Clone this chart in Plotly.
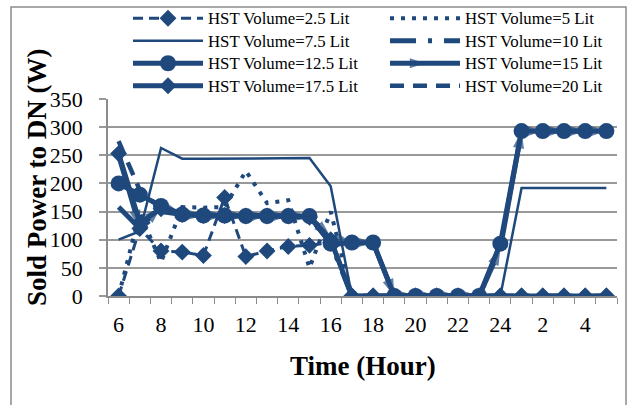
import plotly.graph_objects as go

# ---- data ----
hours = [6, 7, 8, 9, 10, 11, 12, 13, 14, 15, 16, 17, 18, 19, 20, 21, 22, 23, 24, 1, 2, 3, 4, 5]
tick_labels = ['6', '8', '10', '12', '14', '16', '18', '20', '22', '24', '2', '4']

v2_5 = [0, 120, 80, 78, 72, 175, 70, 80, 88, 90, 95, 0, 0, 0, 0, 0, 0, 0, 0, 0, 0, 0, 0, 0]
v5 = [0, 148, 60, 158, 157, 158, 222, 165, 170, 50, 150, 0, 0, 0, 0, 0, 0, 0, 0, 0, 0, 0, 0, 0]
v7_5 = [100, 115, 263, 244, 244, 244, 244, 244, 244, 245, 195, 0, 0, 0, 0, 0, 0, 0, 0, 192, 192, 192, 192, 192]
v10 = [158, 120, 150, 145, 143, 143, 142, 142, 142, 140, 95, 0, 0, 0, 0, 0, 0, 0, 0, 0, 0, 0, 0, 0]
v12_5 = [200, 180, 160, 145, 143, 143, 142, 142, 142, 142, 93, 95, 95, 0, 0, 0, 0, 0, 93, 293, 293, 293, 293, 293]
v15 = [250, 122, 158, 145, 143, 143, 142, 142, 142, 140, 105, 95, 95, 0, 0, 0, 0, 0, 85, 293, 293, 293, 293, 293]
v17_5 = [253, 130, 155, 145, 143, 143, 142, 142, 142, 140, 100, 0, 0, 0, 0, 0, 0, 0, 0, 0, 0, 0, 0, 0]
v20 = [275, 188, 155, 145, 143, 143, 142, 142, 142, 140, 100, 0, 0, 0, 0, 0, 0, 0, 0, 0, 0, 0, 0, 0]

names = ['HST Volume=2.5 Lit', 'HST Volume=5 Lit', 'HST Volume=7.5 Lit', 'HST Volume=10 Lit',
         'HST Volume=12.5 Lit', 'HST Volume=15 Lit', 'HST Volume=17.5 Lit', 'HST Volume=20 Lit']

# ---- styling ----
C = '#1f497d'
FONT = 'Liberation Serif'
x = list(range(len(hours)))
label_pos = [i for i, h in enumerate(hours) if str(h) in tick_labels and i % 2 == 0]

W, H = 629, 405
ML, MR, MT, MB = 108, 12, 99, 109
PW, PH = W - ML - MR, H - MT - MB


def px_x(p):
    return (p - ML) / PW


def px_y(p):
    return (H - MB - p) / PH


def lg(name):
    return '<span style="font-size:16.8px">' + name + '</span>'


fig = go.Figure()

fig.add_trace(go.Scatter(x=x, y=v2_5, name=lg(names[0]), mode='lines+markers',
                         line=dict(color=C, width=3, dash='10px,6px'),
                         marker=dict(symbol='diamond', size=13, color=C), legend='legend'))
fig.add_trace(go.Scatter(x=x, y=v5, name=lg(names[1]), mode='lines',
                         line=dict(color=C, width=4, dash='4px,7px'), legend='legend2'))
fig.add_trace(go.Scatter(x=x, y=v7_5, name=lg(names[2]), mode='lines',
                         line=dict(color=C, width=2.5), legend='legend'))
fig.add_trace(go.Scatter(x=x, y=v10, name=lg(names[3]), mode='lines',
                         line=dict(color=C, width=5, dash='26px,12px,4px,12px'), legend='legend2'))
fig.add_trace(go.Scatter(x=x, y=v12_5, name=lg(names[4]), mode='lines+markers',
                         line=dict(color=C, width=5),
                         marker=dict(symbol='circle', size=16, color=C), legend='legend'))
fig.add_trace(go.Scatter(x=x, y=v15, name=lg(names[5]), mode='lines+markers',
                         line=dict(color=C, width=5),
                         marker=dict(symbol='arrow', angleref='previous',
                                     size=[0] + [18] * (len(hours) - 1), color=C,
                                     line=dict(width=0)), legend='legend2'))
fig.add_trace(go.Scatter(x=x, y=v17_5, name=lg(names[6]), mode='lines+markers',
                         line=dict(color=C, width=5),
                         marker=dict(symbol='diamond', size=13, color=C), legend='legend'))
fig.add_trace(go.Scatter(x=x, y=v20, name=lg(names[7]), mode='lines',
                         line=dict(color=C, width=4.5, dash='14px,9px'), legend='legend2'))

legend_common = dict(orientation='v', font=dict(family=FONT, size=15, color='black'),
                     bgcolor='rgba(0,0,0,0)', itemwidth=70, tracegroupgap=0,
                     xanchor='left', yanchor='top', y=px_y(2))

fig.update_layout(
    width=W, height=H,
    margin=dict(l=ML, r=MR, t=MT, b=MB, autoexpand=False),
    paper_bgcolor='white', plot_bgcolor='white',
    font=dict(family=FONT, color='black'),
    legend=dict(legend_common, x=px_x(128)),
    legend2=dict(legend_common, x=px_x(385)),
    xaxis=dict(range=[-0.5, len(hours) - 0.5], tickmode='array',
               tickvals=label_pos, ticktext=tick_labels, ticks='',
               showgrid=False, zeroline=False, showline=True, linecolor='#8c8c8c', linewidth=1.5,
               tickfont=dict(family=FONT, size=22, color='black'), ticklabelstandoff=8,
               minor=dict(tickvals=[i - 0.5 for i in range(len(hours) + 1)], ticks='outside',
                          ticklen=6, tickcolor='#8c8c8c', tickwidth=1.2, showgrid=False)),
    yaxis=dict(range=[0, 350], tickmode='linear', tick0=0, dtick=50,
               showgrid=True, gridcolor='#999999', gridwidth=1.5, zeroline=False,
               showline=True, linecolor='#8c8c8c', linewidth=1.5,
               ticks='outside', ticklen=7, tickcolor='#999999', tickwidth=1.5,
               tickfont=dict(family=FONT, size=22, color='black'), ticklabelstandoff=12),
    annotations=[
        dict(text='<b>Time (Hour)</b>', xref='paper', yref='paper', x=0.5, y=px_y(366),
             xanchor='center', yanchor='middle', showarrow=False,
             font=dict(family=FONT, size=27, color='black')),
        dict(text='<b>Sold Power to DN (W)</b>', xref='paper', yref='paper', x=px_x(37), y=px_y(178),
             xanchor='center', yanchor='middle', textangle=-90, showarrow=False,
             font=dict(family=FONT, size=27, color='black')),
    ],
    shapes=[dict(type='rect', xref='paper', yref='paper', x0=px_x(11), x1=px_x(626),
                 y0=px_y(410), y1=px_y(7), line=dict(color='#8c8c8c', width=1.5),
                 fillcolor='rgba(0,0,0,0)', layer='below')],
)

fig.write_html('out.html', config={'displayModeBar': False},
               post_script="document.body.style.margin='0';")
